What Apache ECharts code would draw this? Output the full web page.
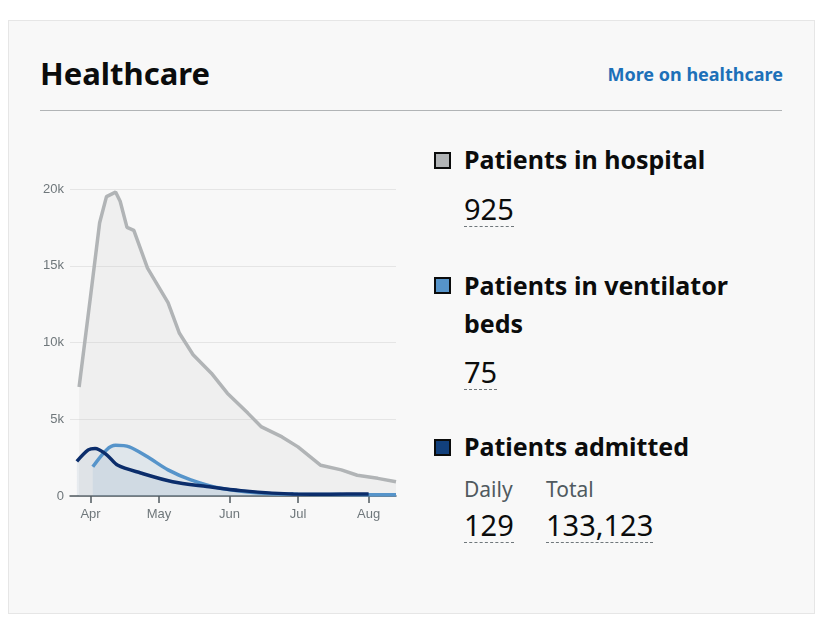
<!DOCTYPE html>
<html>
<head>
<meta charset="utf-8">
<script src="https://cdn.jsdelivr.net/npm/echarts@6/dist/echarts.min.js"></script>
<style>
	body{margin:0;background:#fff;font-family:"Noto Sans",Lato,sans-serif;width:825px;height:628px;position:relative;overflow:hidden}
	#panel{position:absolute;left:8px;top:20px;width:805px;height:592px;background:#f8f8f8;border:1px solid #e6e6e6}
	.abs{position:absolute;white-space:nowrap}
	.title{left:40px;top:52px;font-size:31px;font-weight:bold;color:#0b0c0c}
	.more{right:42px;top:62px;font-size:18px;font-weight:bold;color:#1d70b8}
	.rule{left:40px;top:110px;width:742px;height:1px;background:#b1b4b6}
	.head{font-size:25px;font-weight:bold;color:#0b0c0c}
	.sq{width:17px;height:17px;border:2px solid #0b0c0c;box-sizing:border-box}
	.num{font-size:29px;color:#0b0c0c;border-bottom:1px dashed #6f777b;line-height:34px}
	.lbl{font-size:21px;color:#505a5f}
	#chart{position:absolute;left:0;top:150px;width:420px;height:390px}
</style>
</head>
<body>
<div id="panel"></div>
<div class="abs title">Healthcare</div>
<div class="abs more">More on healthcare</div>
<div class="abs rule"></div>

<div class="abs sq" style="left:434px;top:152px;background:#b1b4b6"></div>
<div class="abs head" style="left:464px;top:142px">Patients in hospital</div>
<div class="abs num" style="left:464px;top:192px">925</div>

<div class="abs sq" style="left:434px;top:277px;background:#5694ca"></div>
<div class="abs head" style="left:464px;top:266px;line-height:38px">Patients in ventilator<br>beds</div>
<div class="abs num" style="left:464px;top:355px">75</div>

<div class="abs sq" style="left:434px;top:439px;background:#12407c"></div>
<div class="abs head" style="left:464px;top:429px">Patients admitted</div>
<div class="abs lbl" style="left:464px;top:475px">Daily</div>
<div class="abs lbl" style="left:546px;top:475px">Total</div>
<div class="abs num" style="left:464px;top:508px">129</div>
<div class="abs num" style="left:546px;top:508px">133,123</div>

<div id="chart"></div>
<script>
	var hospitalDates = ['2020-03-27','2020-04-01','2020-04-05','2020-04-08','2020-04-12','2020-04-14','2020-04-17','2020-04-20','2020-04-26','2020-05-05','2020-05-10','2020-05-16','2020-05-24','2020-05-31','2020-06-09','2020-06-15','2020-06-24','2020-07-01','2020-07-11','2020-07-20','2020-07-27','2020-08-05','2020-08-13'];
	var hospitalValues = [7100,13000,17800,19500,19800,19200,17500,17300,14850,12600,10600,9200,8000,6700,5400,4500,3850,3200,2000,1700,1350,1150,925];
	var ventDates = ['2020-04-02','2020-04-08','2020-04-12','2020-04-18','2020-04-26','2020-05-05','2020-05-15','2020-05-28','2020-06-14','2020-07-01','2020-07-20','2020-08-13'];
	var ventValues = [1900,3000,3300,3200,2550,1700,1050,500,200,120,90,75];
	var admDates = ['2020-03-26','2020-03-31','2020-04-03','2020-04-08','2020-04-13','2020-04-23','2020-05-07','2020-05-22','2020-06-06','2020-06-29','2020-07-15','2020-08-01'];
	var admValues = [2250,3000,3100,2700,2000,1500,930,620,350,130,120,129];
	var monthTicks = ['2020-04-01','2020-05-01','2020-06-01','2020-07-01','2020-08-01'];
	var monthNames = ['Apr','May','Jun','Jul','Aug'];

	function t(d){ return Date.parse(d + 'T00:00:00Z'); }
	function pairs(d, v){ return d.map(function(x,i){ return [t(x), v[i]]; }); }
	var tickTimes = monthTicks.map(t);

	var chart = echarts.init(document.getElementById('chart'));
	chart.setOption({
		animation: false,
		grid: {left: 70, right: 24, top: 39, bottom: 44},
		xAxis: {
			type: 'value',
			min: t('2020-03-23'), max: t('2020-08-13'),
			axisLine: {onZero: false, lineStyle: {color: '#505a5f', width: 1.5}},
			axisTick: {show: true, customValues: tickTimes, length: 7, lineStyle: {color: '#505a5f', width: 1.5}},
			axisLabel: {
				customValues: tickTimes, color: '#6f777b', fontSize: 13, margin: 12,
				formatter: function(v){ var i = tickTimes.indexOf(v); return i >= 0 ? monthNames[i] : ''; }
			},
			splitLine: {show: false}
		},
		yAxis: {
			type: 'value', min: 0, max: 20000, interval: 5000,
			axisLine: {show: false}, axisTick: {show: false},
			axisLabel: {color: '#6f777b', fontSize: 13, margin: 6, formatter: function(v){ return v ? (v/1000)+'k' : '0'; }},
			splitLine: {lineStyle: {color: '#e5e5e5'}}
		},
		series: [
			{type: 'line', data: pairs(hospitalDates, hospitalValues), symbol: 'none',
				lineStyle: {color: '#b1b4b6', width: 3.5}, areaStyle: {color: 'rgba(200,200,200,0.25)'}},
			{type: 'line', data: pairs(ventDates, ventValues), symbol: 'none', smooth: 0.3,
				lineStyle: {color: '#5694ca', width: 3.5}, areaStyle: {color: 'rgba(86,148,202,0.15)'}},
			{type: 'line', data: pairs(admDates, admValues), symbol: 'none', smooth: 0.3,
				lineStyle: {color: '#0b2d6b', width: 3.5}, areaStyle: {color: 'rgba(18,64,124,0.1)'}}
		]
	});
</script>
</body>
</html>
